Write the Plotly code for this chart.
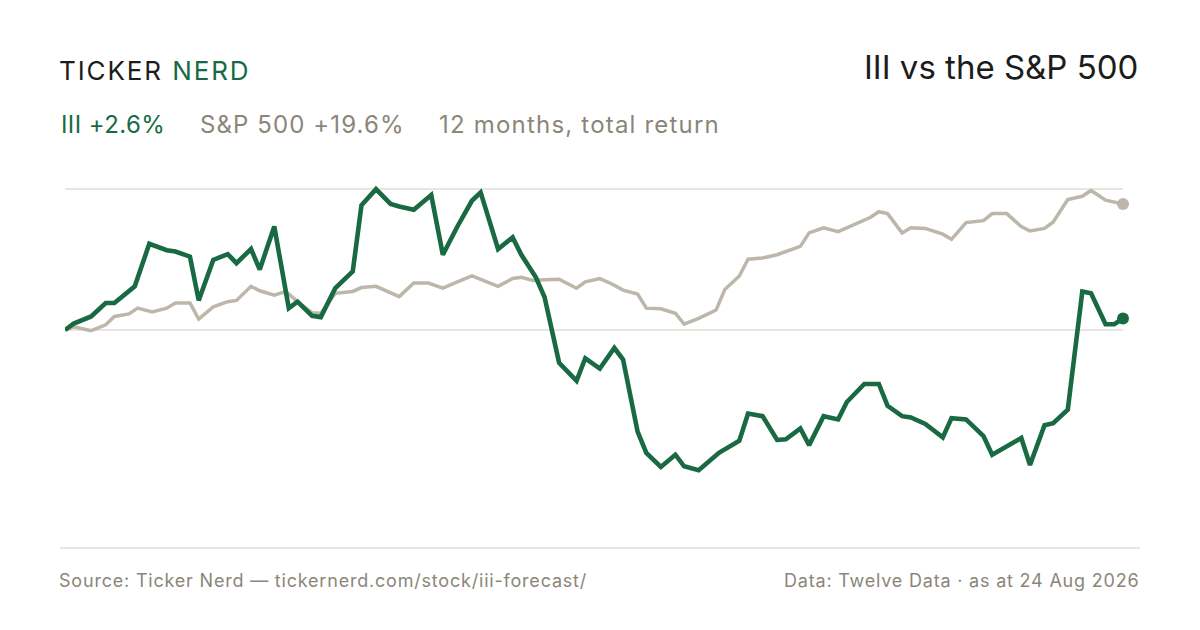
import pandas as pd
import plotly.graph_objects as go

# 12 months of total return (days since 25 Aug 2025, % return)
START = pd.Timestamp("2025-08-25")

III_DAY = [0, 3, 9, 14, 17, 24, 29, 35, 38, 43, 46, 51, 56, 59, 64, 67, 72, 77, 80, 85,
           88, 93, 99, 102, 107, 112, 115, 120, 126, 130, 135, 140, 143, 149, 154, 157,
           162, 165, 170, 176, 179, 184, 189, 192, 197, 200, 205, 210, 213, 218, 225,
           232, 235, 240, 245, 248, 253, 256, 261, 266, 269, 275, 280, 283, 288, 291,
           296, 302, 305, 310, 316, 319, 329, 332, 337, 340, 345, 350, 353, 358, 361, 364]
III_RET = [0.0, 1.0, 2.1, 4.2, 4.2, 6.8, 13.4, 12.4, 12.2, 11.4, 4.6, 10.9, 11.8, 10.4,
           12.6, 9.4, 16.1, 3.4, 4.4, 2.2, 2.0, 6.5, 9.1, 19.4, 21.9, 19.6, 19.2, 18.7,
           21.0, 11.7, 16.1, 20.1, 21.4, 12.6, 14.4, 11.7, 8.2, 5.1, -5.1, -7.9, -4.4,
           -6.0, -2.8, -4.6, -15.8, -19.1, -21.3, -19.4, -21.2, -21.8, -19.1, -17.2,
           -13.0, -13.4, -17.1, -17.0, -15.3, -17.9, -13.4, -13.9, -11.2, -8.4, -8.4,
           -11.8, -13.4, -13.6, -14.6, -16.7, -13.7, -13.9, -16.5, -19.4, -16.8, -21.0,
           -14.8, -14.5, -12.4, 6.0, 5.7, 0.9, 0.9, 1.8]

SPX_DAY = [0, 3, 9, 14, 17, 22, 25, 30, 35, 38, 43, 46, 51, 56, 59, 64, 67, 72, 76, 80,
           85, 88, 93, 99, 102, 107, 115, 120, 125, 130, 135, 140, 149, 154, 157, 161,
           165, 170, 176, 179, 184, 188, 192, 197, 200, 205, 210, 213, 218, 224, 227,
           232, 235, 240, 245, 249, 253, 256, 261, 266, 272, 277, 280, 283, 288, 291,
           296, 302, 305, 310, 316, 319, 324, 329, 332, 337, 340, 345, 350, 353, 358, 364]
SPX_RET = [0.0, 0.5, -0.1, 0.8, 2.1, 2.5, 3.4, 2.8, 3.4, 4.2, 4.2, 1.7, 3.6, 4.4, 4.6,
           6.8, 6.1, 5.4, 6.0, 4.4, 2.7, 2.6, 5.7, 6.0, 6.6, 6.8, 5.2, 7.3, 7.3, 6.5, 7.5,
           8.4, 6.8, 8.0, 8.2, 7.7, 7.8, 7.9, 6.5, 7.5, 8.0, 7.2, 6.2, 5.6, 3.4, 3.3, 2.6,
           0.9, 1.8, 3.1, 6.3, 8.4, 11.0, 11.2, 11.7, 12.3, 13.0, 15.1, 15.9, 15.3, 16.5,
           17.5, 18.4, 18.1, 15.1, 15.9, 15.8, 14.9, 14.1, 16.7, 17.0, 18.1, 18.1, 16.1,
           15.4, 15.8, 16.8, 20.3, 20.8, 21.7, 20.2, 19.6]

GRID_VALS = [0, 21.9]

GREEN = "#196a43"
SAND = "#bdb6aa"
MUTED = "#8b8679"
INK = "#1c1c1c"

W, H = 1200, 630
OFF = 8                       # page body margin
L, R, T, B = 65, 1123, 180, 490   # plot area in pixels (as seen on screen)


def px(x):
    return (x - L) / (R - L)


def py(y):
    return (B - y) / (B - T)


def spaced(text, ls):
    return "<span style='letter-spacing:%spx'>%s</span>" % (ls, text)


iii_x = START + pd.to_timedelta(III_DAY, unit="D")
spx_x = START + pd.to_timedelta(SPX_DAY, unit="D")

fig = go.Figure()
fig.add_trace(go.Scatter(x=spx_x, y=SPX_RET, mode="lines", line=dict(color=SAND, width=3.5),
                         cliponaxis=False, hoverinfo="skip"))
fig.add_trace(go.Scatter(x=[spx_x[-1]], y=[SPX_RET[-1]], mode="markers",
                         marker=dict(color=SAND, size=12), cliponaxis=False, hoverinfo="skip"))
fig.add_trace(go.Scatter(x=iii_x, y=III_RET, mode="lines", line=dict(color=GREEN, width=4.6),
                         cliponaxis=False, hoverinfo="skip"))
fig.add_trace(go.Scatter(x=[iii_x[-1]], y=[III_RET[-1]], mode="markers",
                         marker=dict(color=GREEN, size=12), cliponaxis=False, hoverinfo="skip"))

ytop = (330 - T) / 6.43
ybot = (330 - B) / 6.43

fig.update_layout(
    width=W, height=H,
    margin=dict(l=L - OFF, r=W - R + OFF, t=T - OFF, b=H - B + OFF),
    paper_bgcolor="white", plot_bgcolor="white",
    showlegend=False,
    font=dict(family="Inter", color=MUTED),
    xaxis=dict(range=[iii_x[0], iii_x[-1]], showgrid=False, zeroline=False,
               showticklabels=False, showline=False),
    yaxis=dict(range=[ybot, ytop], tickvals=GRID_VALS, showticklabels=False,
               gridcolor="#e9e6e0", gridwidth=1.5, zeroline=False, showline=False),
)

# footer rule
fig.add_shape(type="line", xref="paper", yref="paper", x0=px(60), x1=px(1140),
              y0=py(548), y1=py(548), line=dict(color="#e2ded6", width=1.5))

ann = [
    dict(x=px(57), y=py(70),
         text=spaced("TICKER <span style='color:%s'>NERD</span>" % GREEN, 1.9),
         xanchor="left", font=dict(size=26, color=INK)),
    dict(x=px(1140), y=py(67), text="III vs the S&P 500", xanchor="right",
         font=dict(size=33, color=INK)),
    dict(x=px(59), y=py(124), text=spaced("III +2.6%", 0.4), xanchor="left",
         font=dict(size=24, color=GREEN)),
    dict(x=px(198), y=py(124), text=spaced("S&P 500 +19.6%", 1.1), xanchor="left",
         font=dict(size=24, color=MUTED)),
    dict(x=px(437), y=py(124), text=spaced("12 months, total return", 1.2), xanchor="left",
         font=dict(size=24, color=MUTED)),
    dict(x=px(57), y=py(580),
         text=spaced("Source: Ticker Nerd \u2014 tickernerd.com/stock/iii-forecast/", 0.8),
         xanchor="left", font=dict(size=18, color=MUTED)),
    dict(x=px(1141), y=py(580), text=spaced("Data: Twelve Data \u00b7 as at 24 Aug 2026", 0.8),
         xanchor="right", font=dict(size=18, color=MUTED)),
]
for a in ann:
    fig.add_annotation(xref="paper", yref="paper", yanchor="middle", showarrow=False, **a)

fig.write_html("out.html")
